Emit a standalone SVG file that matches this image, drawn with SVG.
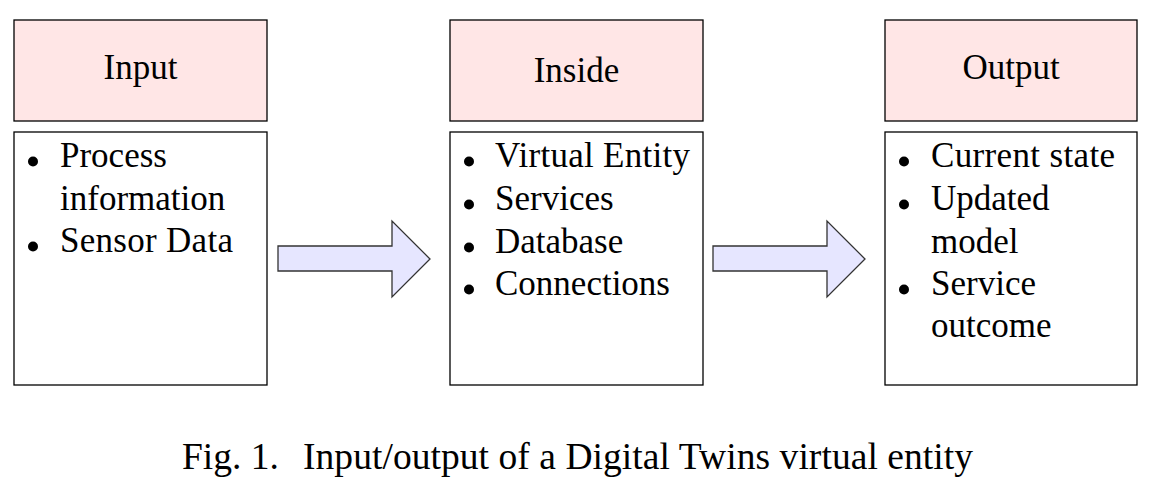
<svg xmlns="http://www.w3.org/2000/svg" width="1156" height="496" viewBox="0 0 1156 496">
  <defs>
    <style>
      .hdr { fill: #ffe6e6; stroke: #000; stroke-width: 1.3; }
      .box { fill: #fff; stroke: #000; stroke-width: 1.3; }
      .arrow { fill: #e6e6ff; stroke: #333; stroke-width: 1.3; stroke-linejoin: miter; }
      .t { font-family: "Liberation Serif", "Times New Roman", serif; font-size: 35px; fill: #000; }
      .hc { text-anchor: middle; }
      .cap { font-family: "Liberation Serif", "Times New Roman", serif; font-size: 37.5px; fill: #000; }
      .dot { fill: #000; }
    </style>
  </defs>
  <rect width="1156" height="496" fill="#fff"/>

  <g id="connectors">
    <path class="arrow" d="M278,246 H392 V221 L430,259 L392,297 V271 H278 Z"/>
    <path class="arrow" d="M713,246 H827 V221 L865,259 L827,297 V271 H713 Z"/>
  </g>

  <g id="input">
    <rect class="hdr" x="14" y="20" width="253" height="101"/>
    <text class="t hc" x="140.5" y="79">Input</text>
    <rect class="box" x="14" y="132" width="253" height="253"/>
    <circle class="dot" cx="33" cy="161.5" r="5"/>
    <text class="t" x="60" y="167">Process</text>
    <text class="t" x="60" y="210">information</text>
    <circle class="dot" cx="33" cy="246.5" r="5"/>
    <text class="t" x="60" y="252" textLength="173" lengthAdjust="spacing">Sensor Data</text>
  </g>

  <g id="inside">
    <rect class="hdr" x="450" y="20" width="253" height="101"/>
    <text class="t hc" x="576.5" y="82">Inside</text>
    <rect class="box" x="450" y="132" width="253" height="253"/>
    <circle class="dot" cx="469" cy="161.5" r="5"/>
    <text class="t" x="495" y="167" textLength="195" lengthAdjust="spacing">Virtual Entity</text>
    <circle class="dot" cx="469" cy="204.5" r="5"/>
    <text class="t" x="495" y="210">Services</text>
    <circle class="dot" cx="469" cy="247.5" r="5"/>
    <text class="t" x="495" y="253">Database</text>
    <circle class="dot" cx="469" cy="289.5" r="5"/>
    <text class="t" x="495" y="295">Connections</text>
  </g>

  <g id="output">
    <rect class="hdr" x="885" y="20" width="252" height="101"/>
    <text class="t hc" x="1011" y="79">Output</text>
    <rect class="box" x="885" y="132" width="252" height="253"/>
    <circle class="dot" cx="904" cy="161.5" r="5"/>
    <text class="t" x="931" y="167" textLength="184" lengthAdjust="spacing">Current state</text>
    <circle class="dot" cx="904" cy="204.5" r="5"/>
    <text class="t" x="931" y="210">Updated</text>
    <text class="t" x="931" y="253">model</text>
    <circle class="dot" cx="904" cy="289.5" r="5"/>
    <text class="t" x="931" y="295">Service</text>
    <text class="t" x="931" y="337">outcome</text>
  </g>

  <g id="caption">
    <text class="cap" x="182" y="469">Fig. 1.</text>
    <text class="cap" x="303" y="469" textLength="670" lengthAdjust="spacing">Input/output of a Digital Twins virtual entity</text>
  </g>
</svg>
